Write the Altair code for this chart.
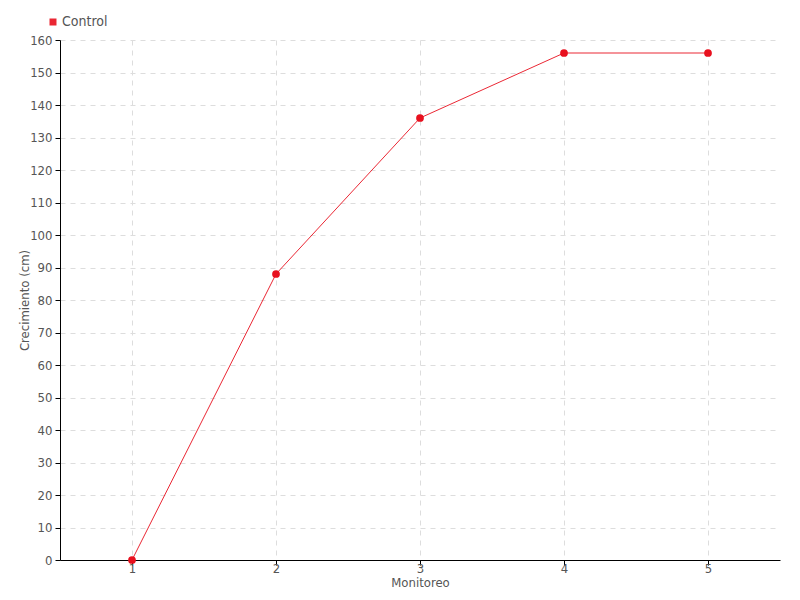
import altair as alt
import pandas as pd

monitoreo = [1, 2, 3, 4, 5]
crecimiento = [0, 88, 136, 156, 156]
serie = ["Control"] * 5

df = pd.DataFrame({"Monitoreo": monitoreo, "Crecimiento": crecimiento, "Serie": serie})

FONT = "DejaVu Sans Condensed, Roboto, sans-serif"
GRAY = "#555555"

base = alt.Chart(df).encode(
    x=alt.X("Monitoreo:Q", scale=alt.Scale(domain=[0.5, 5.5], nice=False, zero=False),
            axis=alt.Axis(values=[1, 2, 3, 4, 5], title="Monitoreo", format="d",
                          titleY=22, titleBaseline="middle", labelPadding=-3)),
    y=alt.Y("Crecimiento:Q", scale=alt.Scale(domain=[0, 160], nice=False),
            axis=alt.Axis(values=list(range(0, 161, 10)), title="Crecimiento (cm)",
                          titleX=-36, titleY=260, titleAlign="center",
                          titleBaseline="middle", labelPadding=3)),
    color=alt.Color("Serie:N", scale=alt.Scale(range=["#e8101e"]),
                    legend=alt.Legend(title=None, orient="none", legendX=-14, legendY=-25,
                                      symbolType="square", symbolSize=30,
                                      labelFont=FONT, labelFontSize=14, labelColor=GRAY,
                                      labelOffset=2)),
)

line = base.mark_line(strokeWidth=1, color="#ff2a36", opacity=0.9)
points = base.mark_circle(size=60, opacity=1)

chart = (line + points).properties(
    width=720, height=520,
    autosize=alt.AutoSizeParams(type="none"),
    padding={"left": 52, "top": 32, "right": 12, "bottom": 32},
).configure_view(stroke=None).configure_axis(
    labelFont=FONT, titleFont=FONT, labelFontSize=13, titleFontSize=13,
    labelColor=GRAY, titleColor=GRAY, titleFontWeight="normal",
    gridColor="#dddddd", gridDash=[5, 5], gridWidth=1,
    domainColor="#000000", tickColor="#000000", tickSize=5,
)

chart.save("out.html", embed_options={"renderer": "svg", "actions": False})
